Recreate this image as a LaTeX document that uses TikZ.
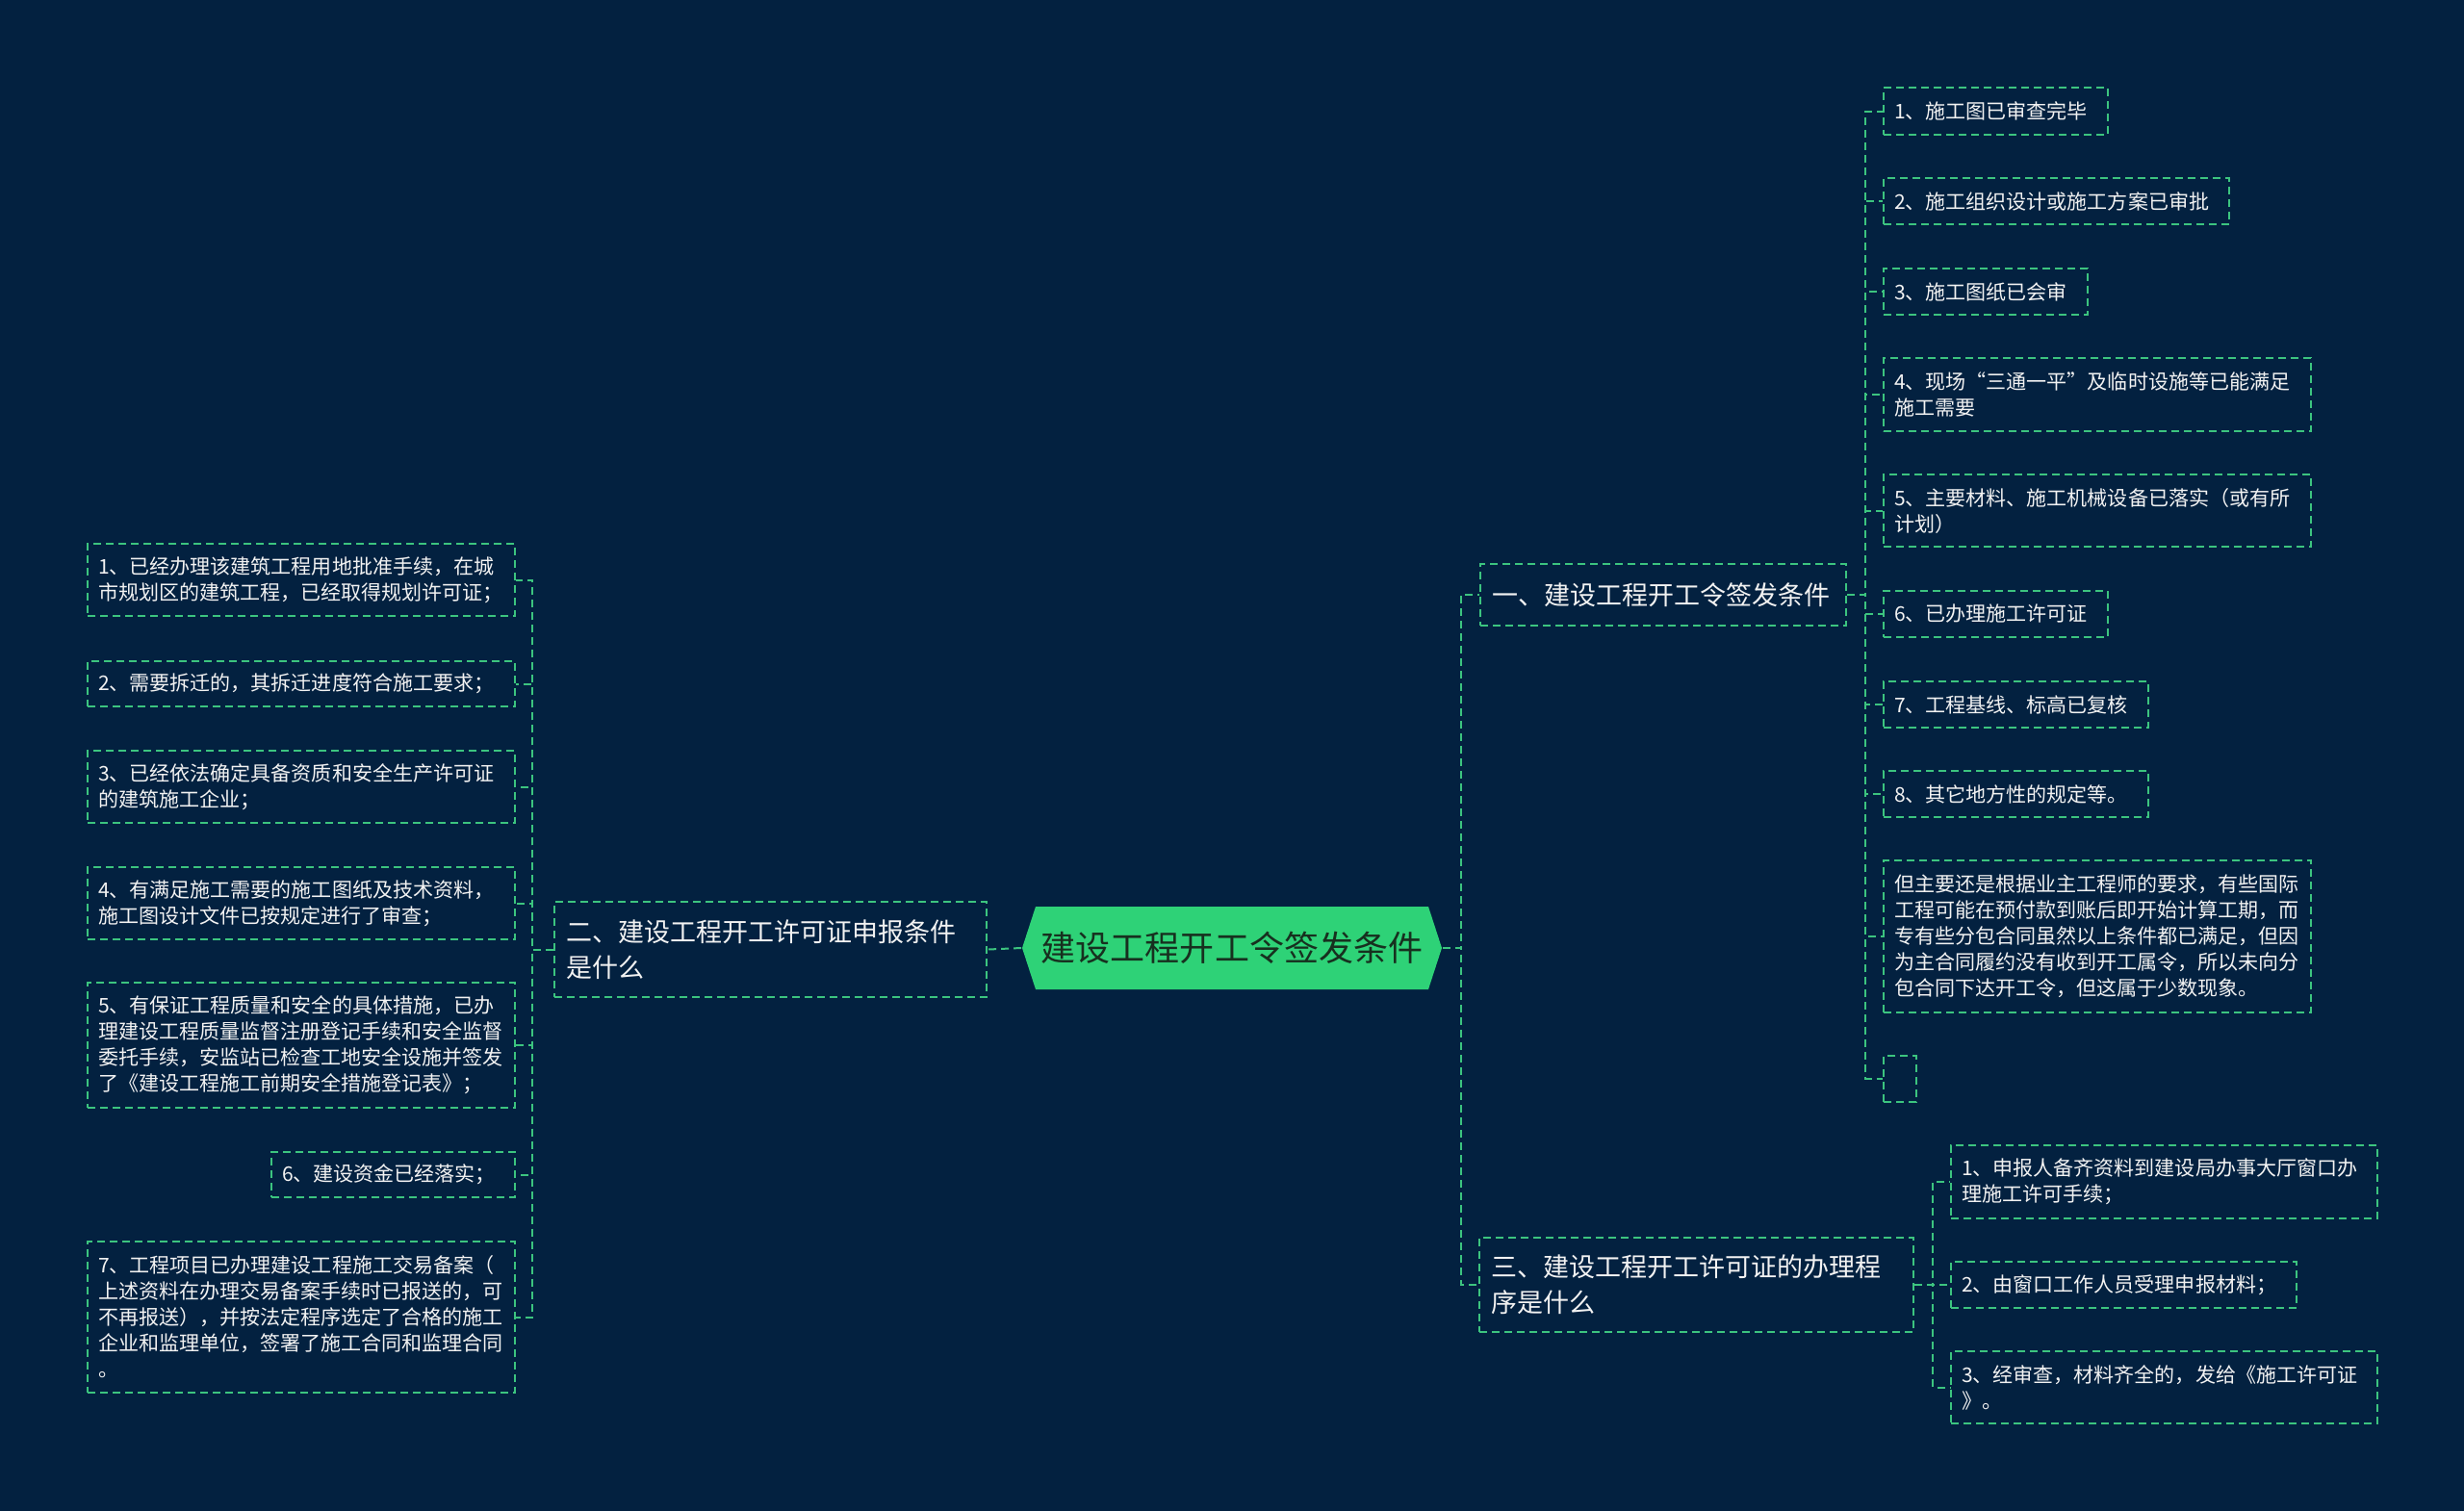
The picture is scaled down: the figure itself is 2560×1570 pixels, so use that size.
\documentclass[tikz,border=0pt]{standalone}
\usepackage{fontspec}
\setmainfont{Noto Sans CJK SC}
\usepackage{xcolor}
\usepackage{tikz}

\definecolor{bgnavy}{HTML}{032140}
\definecolor{lineg}{HTML}{3CC47F}
\definecolor{hexg}{HTML}{2ED277}
\definecolor{roottxt}{HTML}{17301F}
\definecolor{leaftxt}{HTML}{F2F2F2}

\begin{document}
\begin{tikzpicture}[x=0.01cm, y=-0.01cm,
    leaf/.style={draw=lineg, line width=0.2mm, dash pattern=on 0.8mm off 0.5mm, text=leaftxt,
        font=\fontsize{5.98pt}{7.68pt}\selectfont, align=left, inner xsep=1.1mm, inner ysep=0pt, anchor=north west},
    topic/.style={leaf, font=\fontsize{7.68pt}{10.5pt}\selectfont, inner xsep=1.2mm},
    link/.style={draw=lineg, line width=0.2mm, dash pattern=on 0.8mm off 0.5mm}]
    \fill[bgnavy] (0,0) rectangle (2560,1570);
    \useasboundingbox (0,0) rectangle (2560,1570);

    % centre
    \coordinate (rc) at (1280,985);
    \fill[hexg] (rc) ++(-218,0) -- ++(14,-43) -- ++(408,0) -- ++(14,43) -- ++(-14,43) -- ++(-408,0) -- cycle;
    \node[minimum width=4.36cm, minimum height=0.86cm, inner sep=0pt, text=roottxt,
        font=\fontsize{10.24pt}{12pt}\selectfont] (root) at (rc) {建设工程开工令签发条件};

    % main topics
    \node[topic, text width=3.56cm, minimum height=0.64cm] (one) at (1537,585) {一、建设工程开工令签发条件};
    \node[topic, text width=4.25cm, minimum height=0.99cm] (two) at (575,936) {二、建设工程开工许可证申报条件\\是什么};
    \node[topic, text width=4.27cm, minimum height=0.98cm] (three) at (1536,1285) {三、建设工程开工许可证的办理程\\序是什么};

    % right, first topic
    \node[leaf, text width=2.11cm, minimum height=0.49cm] (r1) at (1956,90) {1、施工图已审查完毕};
    \node[leaf, text width=3.37cm, minimum height=0.48cm] (r2) at (1956,184) {2、施工组织设计或施工方案已审批};
    \node[leaf, text width=1.90cm, minimum height=0.48cm] (r3) at (1956,278) {3、施工图纸已会审};
    \node[leaf, text width=4.22cm, minimum height=0.76cm] (r4) at (1956,371) {4、现场“三通一平”及临时设施等已能满足\\施工需要};
    \node[leaf, text width=4.22cm, minimum height=0.75cm] (r5) at (1956,492) {5、主要材料、施工机械设备已落实（或有所\\计划）};
    \node[leaf, text width=2.11cm, minimum height=0.48cm] (r6) at (1956,613) {6、已办理施工许可证};
    \node[leaf, text width=2.53cm, minimum height=0.48cm] (r7) at (1956,707) {7、工程基线、标高已复核};
    \node[leaf, text width=2.53cm, minimum height=0.48cm] (r8) at (1956,800) {8、其它地方性的规定等。};
    \node[leaf, text width=4.22cm, minimum height=1.58cm] (r9) at (1956,893) {但主要还是根据业主工程师的要求，有些国际\\工程可能在预付款到账后即开始计算工期，而\\专有些分包合同虽然以上条件都已满足，但因\\为主合同履约没有收到开工属令，所以未向分\\包合同下达开工令，但这属于少数现象。};
    \node[leaf, text width=0.12cm, minimum height=0.48cm] (r10) at (1956,1096) {};

    % left, second topic
    \node[leaf, text width=4.22cm, minimum height=0.75cm] (l1) at (90,564) {1、已经办理该建筑工程用地批准手续，在城\\市规划区的建筑工程，已经取得规划许可证；};
    \node[leaf, text width=4.22cm, minimum height=0.47cm] (l2) at (90,686) {2、需要拆迁的，其拆迁进度符合施工要求；};
    \node[leaf, text width=4.22cm, minimum height=0.75cm] (l3) at (90,779) {3、已经依法确定具备资质和安全生产许可证\\的建筑施工企业；};
    \node[leaf, text width=4.22cm, minimum height=0.75cm] (l4) at (90,900) {4、有满足施工需要的施工图纸及技术资料，\\施工图设计文件已按规定进行了审查；};
    \node[leaf, text width=4.22cm, minimum height=1.30cm] (l5) at (90,1020) {5、有保证工程质量和安全的具体措施，已办\\理建设工程质量监督注册登记手续和安全监督\\委托手续，安监站已检查工地安全设施并签发\\了《建设工程施工前期安全措施登记表》；};
    \node[leaf, text width=2.31cm, minimum height=0.47cm] (l6) at (281,1196) {6、建设资金已经落实；};
    \node[leaf, text width=4.22cm, minimum height=1.57cm] (l7) at (90,1289) {7、工程项目已办理建设工程施工交易备案（\\上述资料在办理交易备案手续时已报送的，可\\不再报送），并按法定程序选定了合格的施工\\企业和监理单位，签署了施工合同和监理合同\\。};

    % right, third topic
    \node[leaf, text width=4.21cm, minimum height=0.76cm] (s1) at (2026,1189) {1、申报人备齐资料到建设局办事大厅窗口办\\理施工许可手续；};
    \node[leaf, text width=3.37cm, minimum height=0.48cm] (s2) at (2026,1310) {2、由窗口工作人员受理申报材料；};
    \node[leaf, text width=4.21cm, minimum height=0.75cm] (s3) at (2026,1403) {3、经审查，材料齐全的，发给《施工许可证\\》。};

    % connectors
    \draw[link] (root.west) -- (two.east);
    \draw[link] (root.east) -- ++(19,0) |- (one.west);
    \draw[link] (root.east) -- ++(19,0) |- (three.west);
    \foreach \i in {1,...,10}
        \draw[link] (one.east) -- ++(19,0) |- (r\i.west);
    \foreach \i in {1,...,7}
        \draw[link] (two.west) -- ++(-22,0) |- (l\i.east);
    \foreach \i in {1,2,3}
        \draw[link] (three.east) -- ++(19,0) |- (s\i.west);
\end{tikzpicture}
\end{document}
